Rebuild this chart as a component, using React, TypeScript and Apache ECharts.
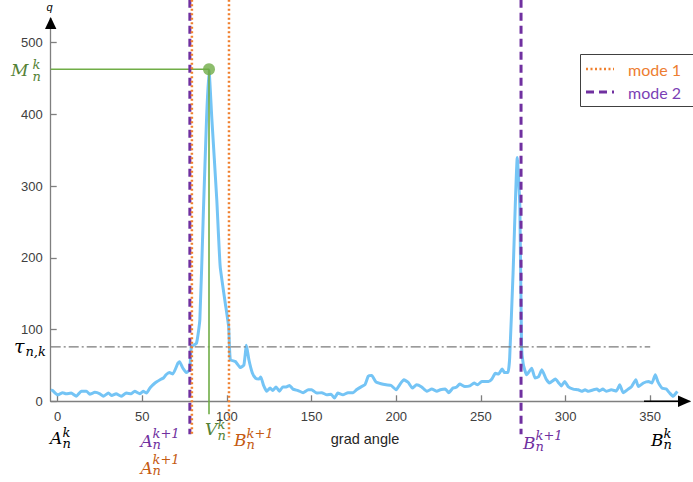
import React, { useEffect, useRef } from 'react';
import * as echarts from 'echarts';

// gradient angle (deg) and q values
const angles = [
  -4, -3, 0, 3, 5, 8, 11, 14, 17, 19, 22, 25, 27, 30, 32, 34.5, 37.5, 40.5, 43.5, 45.5,
  48.5, 50.5, 52.5, 54.5, 57.5, 60.5, 62.5, 64, 66, 68, 71, 72, 74, 76, 78, 79, 82, 84, 86, 88,
  89.4, 91, 94, 96, 99, 101, 102, 105, 108, 110, 111.5, 113, 115, 117, 119, 120, 121.5, 123.5, 125.5, 127,
  129, 131, 133, 135, 137, 139, 142, 145, 148, 150, 153, 156, 159, 161.5, 163.5, 165.5, 168.5, 171.5, 174.5, 176.5,
  179.5, 181.5, 183.5, 185.5, 188, 191, 194, 197, 200, 202, 204.5, 207, 209.5, 212, 215, 218, 221, 224, 226, 229,
  231, 233.5, 235.5, 237.5, 240.5, 243.5, 246, 248, 250.5, 254.5, 256.5, 258.5, 260.5, 262.5, 264, 266, 267, 269, 271.5, 273,
  274, 275, 277, 280, 282, 284, 286, 288.5, 290.5, 294, 296, 297.5, 299.5, 301.5, 304.5, 307.5, 309.5, 311.5, 313.5, 316.5,
  318.5, 320, 322, 324, 327, 330, 332, 334, 337, 339, 341.5, 343, 346, 349, 351, 353, 354.5, 357, 359.5, 361.5,
  363.5, 366,
];
const qValues = [
  16, 15, 9, 12, 10.5, 11.5, 7, 14, 14, 10, 12.5, 10.5, 7, 11.5, 8, 10.5, 7, 11.5, 10.5, 14,
  10.5, 14, 11.5, 18.5, 25.5, 30, 32.5, 37, 40, 38, 53, 55, 46, 40, 44, 76, 81, 114, 258, 397,
  462, 397, 281, 188, 137, 104, 58, 55.5, 47, 50.5, 78, 57.5, 39.5, 32, 31, 34, 23, 14, 18.5, 15,
  20, 14, 20, 20, 22, 17, 15, 12, 16, 16, 11.5, 12, 9, 10, 4.5, 11.5, 9, 12, 12, 16,
  20.5, 23, 35, 36, 27, 24.5, 23, 22, 16, 23, 30, 26.5, 18.5, 23, 20, 14, 17, 14, 16, 17,
  12, 18.5, 19.5, 24, 20.5, 21.5, 25.5, 23, 27.5, 27.5, 31, 39, 38, 45, 40, 40, 61, 179, 340, 272,
  77, 52, 37, 46, 32.5, 34, 44, 31, 25.5, 31, 25.5, 21.5, 27.5, 20.5, 17, 16, 14, 16, 14, 16,
  17, 14.5, 17, 14, 16, 14.5, 23, 12, 17, 20.5, 30, 20.5, 25.5, 27.5, 25.5, 37, 27.5, 18.5, 17, 11.5,
  7, 14,
];
const xTicks = [0, 50, 100, 150, 200, 250, 300, 350];
const yTicks = [0, 100, 200, 300, 400, 500];
const tau = 76;
const peakAngle = 89.4;
const peakQ = 463;
const mode1Bounds = [79.3, 101.2];
const mode2Bounds = [78.1, 273.7];

const X_MIN = -4.1;
const X_MAX = 373.5;
const Y_MAX = 534;

const GREEN = '#70AD47';
const GREEN_TXT = '#548235';
const PURPLE = '#7030A0';
const ORANGE = '#F07F2D';
const ORANGE_TXT = '#C55A11';

const serif = '"DejaVu Serif", "Liberation Serif", serif';

// base letter plus a two-line stack (superscript over subscript)
type ML = { bx: number; by: number; sx: number; sy: number; lh: number; size?: number };

function mathLabel(base: string, sup: string, sub: string, color: string, p: ML) {
  return {
    type: 'group',
    children: [
      {
        type: 'text', x: p.bx, y: p.by,
        style: { text: base, fill: color, fontFamily: serif, fontStyle: 'italic', fontSize: p.size ?? 17, align: 'left', verticalAlign: 'middle' },
      },
      {
        type: 'text', x: p.sx, y: p.sy,
        style: { text: sup + '\n' + sub, fill: color, fontFamily: serif, fontStyle: 'italic', fontSize: 13, lineHeight: p.lh, align: 'left', verticalAlign: 'middle' },
      },
    ],
  };
}

export default function App() {
  const ref = useRef<HTMLDivElement>(null);
  useEffect(() => {
    if (!ref.current) return;
    const chart = echarts.init(ref.current, undefined, { renderer: 'svg' });
    const curve = angles.map((a, i) => [a, qValues[i]]);
    const vline = (x: number, bottom: number) => [[x, 560], [x, bottom]];

    chart.setOption({
      animation: false,
      backgroundColor: '#ffffff',
      grid: { left: 50.7, right: 3, top: 18.3, bottom: 80.7, containLabel: false },
      xAxis: {
        type: 'value',
        min: X_MIN,
        max: X_MAX,
        splitLine: { show: false },
        axisLine: { onZero: false, lineStyle: { color: '#7f7f7f', width: 1.3 } },
        axisTick: { inside: true, length: 6, customValues: xTicks, lineStyle: { color: '#7f7f7f', width: 1.3 } },
        axisLabel: { customValues: xTicks, margin: 9, color: '#404040', fontSize: 13, fontFamily: '"Liberation Sans", Arial, sans-serif' },
      },
      yAxis: {
        type: 'value',
        min: 0,
        max: Y_MAX,
        splitLine: { show: false },
        axisLine: { show: true, onZero: false, lineStyle: { color: '#7f7f7f', width: 1.3 } },
        axisTick: { show: true, inside: true, length: 6, customValues: yTicks, lineStyle: { color: '#7f7f7f', width: 1.3 } },
        axisLabel: { customValues: yTicks, margin: 8, color: '#404040', fontSize: 13, fontFamily: '"Liberation Sans", Arial, sans-serif' },
      },
      series: [
        {
          type: 'line', name: 'q', data: curve, showSymbol: false, smooth: 0.15,
          lineStyle: { color: '#74C4F5', width: 3, join: 'round' }, z: 2,
        },
        {
          type: 'line', name: 'tau', data: [[X_MIN, tau], [350, tau]], symbol: 'none',
          lineStyle: { color: '#7a7a7a', width: 1.2, type: [10, 3, 2, 3] }, z: 3,
        },
        {
          type: 'line', name: 'M', data: [[X_MIN, peakQ], [peakAngle, peakQ]], symbol: 'none',
          lineStyle: { color: GREEN, width: 1.6 }, z: 4,
        },
        {
          type: 'line', name: 'V', data: [[peakAngle, peakQ], [peakAngle, -18]], symbol: 'none', clip: false,
          lineStyle: { color: GREEN, width: 1.6 }, z: 4,
        },
        {
          type: 'scatter', name: 'peak', data: [[peakAngle, peakQ]], symbol: 'circle', symbolSize: 12,
          itemStyle: { color: GREEN }, z: 6,
        },
        {
          type: 'line', name: 'mode 2', data: vline(mode2Bounds[0], -46), symbol: 'none', clip: false,
          lineStyle: { color: PURPLE, width: 3, type: [8, 5] }, z: 5,
        },
        {
          type: 'line', name: 'mode 2 ', data: vline(mode2Bounds[1], -46), symbol: 'none', clip: false,
          lineStyle: { color: PURPLE, width: 3, type: [8, 5] }, z: 5,
        },
        {
          type: 'line', name: 'mode 1', data: vline(mode1Bounds[0], -48), symbol: 'none', clip: false,
          lineStyle: { color: ORANGE, width: 2.5, type: [2, 2.5] }, z: 6,
        },
        {
          type: 'line', name: 'mode 1 ', data: vline(mode1Bounds[1], -50), symbol: 'none', clip: false,
          lineStyle: { color: ORANGE, width: 2.5, type: [2, 2.5] }, z: 6,
        },
      ],
      graphic: [
        // axis arrows
        { type: 'polygon', shape: { points: [[50.7, 17], [45, 29], [56.4, 29]] }, style: { fill: '#000' }, z: 10 },
        { type: 'line', shape: { x1: 644, y1: 401.3, x2: 680, y2: 401.3 }, style: { stroke: '#000', lineWidth: 1.5 }, z: 10 },
        { type: 'polygon', shape: { points: [[691, 401.3], [678, 395.5], [678, 407.1]] }, style: { fill: '#000' }, z: 10 },
        { type: 'text', x: 49.5, y: 7, style: { text: 'q', fill: '#000', fontStyle: 'italic', fontSize: 11, fontFamily: '"Liberation Sans", Arial', align: 'center', verticalAlign: 'middle' } },
        { type: 'text', x: 365, y: 438.5, style: { text: 'grad angle', fill: '#262626', fontSize: 14.5, fontFamily: '"Liberation Sans", Arial', align: 'center', verticalAlign: 'middle' } },
        // legend
        { type: 'rect', shape: { x: 580.5, y: 54.5, width: 130, height: 52 }, style: { fill: '#fff', stroke: '#404040', lineWidth: 1 }, z: 20 },
        { type: 'line', shape: { x1: 586, y1: 69, x2: 614, y2: 69 }, style: { stroke: ORANGE, lineWidth: 2.5, lineDash: [2, 2.5] }, z: 21 },
        { type: 'text', x: 628, y: 69, style: { text: 'mode 1', fill: '#ED7D31', fontSize: 16, fontFamily: 'Lato, "Open Sans", sans-serif', align: 'left', verticalAlign: 'middle' }, z: 21 },
        { type: 'line', shape: { x1: 586, y1: 92, x2: 614, y2: 92 }, style: { stroke: PURPLE, lineWidth: 3, lineDash: [8, 5] }, z: 21 },
        { type: 'text', x: 628, y: 92, style: { text: 'mode 2', fill: '#7B3FB5', fontSize: 16, fontFamily: 'Lato, "Open Sans", sans-serif', align: 'left', verticalAlign: 'middle' }, z: 21 },
        // math labels
        mathLabel('M', 'k', 'n', GREEN_TXT, { bx: 11, by: 69.7, sx: 32.5, sy: 70, lh: 12, size: 17 }),
        { type: 'group', children: [
          { type: 'text', x: 14, y: 346, style: { text: 'τ', fill: '#000', fontFamily: serif, fontStyle: 'italic', fontSize: 19, align: 'left', verticalAlign: 'middle' } },
          { type: 'text', x: 25.5, y: 351, style: { text: 'n,k', fill: '#000', fontFamily: serif, fontStyle: 'italic', fontSize: 13, lineHeight: 10, align: 'left', verticalAlign: 'middle' } },
        ] },
        mathLabel('A', 'k', 'n', '#000', { bx: 50, by: 438, sx: 62.5, sy: 437.5, lh: 11 }),
        mathLabel('A', 'k+1', 'n', PURPLE, { bx: 140.5, by: 441, sx: 152.5, sy: 438.5, lh: 11 }),
        mathLabel('A', 'k+1', 'n', ORANGE_TXT, { bx: 140.5, by: 467.7, sx: 152.5, sy: 465, lh: 11 }),
        mathLabel('V', 'k', 'n', GREEN_TXT, { bx: 205, by: 429, sx: 217.5, sy: 430, lh: 11 }),
        mathLabel('B', 'k+1', 'n', ORANGE_TXT, { bx: 234, by: 440, sx: 246.5, sy: 438.5, lh: 11 }),
        mathLabel('B', 'k+1', 'n', PURPLE, { bx: 523, by: 443.4, sx: 535.5, sy: 440.5, lh: 11 }),
        mathLabel('B', 'k', 'n', '#000', { bx: 651, by: 440, sx: 663.5, sy: 439, lh: 11 }),
      ],
    });
    return () => chart.dispose();
  }, []);
  return <div ref={ref} style={{ position: 'fixed', left: 0, top: 0, width: 693, height: 482 }} />;
}
